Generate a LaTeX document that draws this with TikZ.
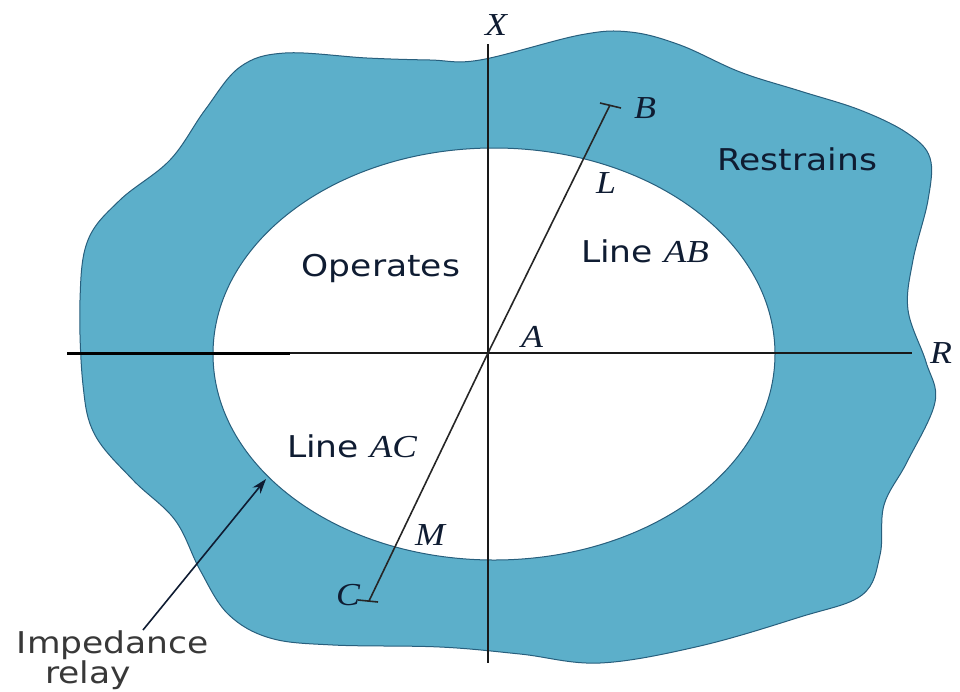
\documentclass[tikz,border=0pt]{standalone}
\usepackage{fontspec}
\newfontfamily\lab{DejaVu Sans}
\newfontfamily\ital{Liberation Serif}
\usetikzlibrary{arrows.meta}
\definecolor{ring}{RGB}{92,175,202}
\definecolor{ringedge}{RGB}{40,95,125}
\definecolor{ink}{RGB}{15,28,50}
\newcommand{\wsans}[1]{\scalebox{1.15}[1]{\lab\fontsize{30}{36}\selectfont #1}}
\newcommand{\witl}[1]{\scalebox{1.12}[1]{\ital\itshape\fontsize{32}{38}\selectfont #1}}
\newcommand{\myit}[1]{{\ital\itshape\fontsize{32}{38}\selectfont #1}}
\tikzset{
  lbl/.style={anchor=base, inner sep=0pt, text=ink},
  axis/.style={draw=black!90, line width=2pt},
  lineseg/.style={draw=black!85, line width=1.6pt},
  ringpath/.style={fill=ring, draw=ringedge, line width=1pt, even odd rule},
}
\begin{document}
\begin{tikzpicture}[x=1pt,y=-1pt]
\useasboundingbox (0,0) rectangle (960,691);
% ring
\path[ringpath] plot[smooth cycle, tension=0.6] coordinates {
 (480,60) (580,35) (630,32) (680,45) (740,72) (800,91) (860,110)
 (907,133) (930,158) (928,200) (913,260) (908,310) (926,362) (935,402)
 (907,462) (884,505) (880,555) (862,595) (800,617) (700,646) (600,663)
 (520,654) (440,647) (333,645) (270,638) (228,614) (200,570) (175,520)
 (133,480) (95,435) (83,385) (80,300) (88,240) (120,200) (170,160)
 (205,110) (240,67) (285,53) (367,58) (430,60)
} (494,354) ellipse [x radius=281, y radius=206];
% coordinates
\coordinate (hl) at (67,353);
\coordinate (hk) at (290,353);
\coordinate (hr) at (912,353);
\coordinate (vt) at (488,44);
\coordinate (vb) at (488,663);
\coordinate (O) at (488,353);
\coordinate (Bend) at (610,105);
\coordinate (Cend) at (369,601);
\coordinate (Bt1) at (600,103);
\coordinate (Bt2) at (621,108);
\coordinate (Ct1) at (358,600);
\coordinate (Ct2) at (378,602);
% axes
\draw[axis] (hl) -- (hr);
\draw[draw=black, line width=3pt] (hl) -- (hk);
\draw[axis] (vt) -- (vb);
% lines AB and AC
\draw[lineseg] (O) -- (Bend);
\draw[lineseg] (Bt1) -- (Bt2);
\draw[lineseg] (O) -- (Cend);
\draw[lineseg] (Ct1) -- (Ct2);
% labels
\node[lbl] (X) at (496,35) {\witl{X}};
\node[lbl] (R) at (941,363) {\witl{R}};
\node[lbl] (A) at (532,347) {\witl{A}};
\node[lbl] (B) at (645,118) {\witl{B}};
\node[lbl] (L) at (606,193) {\witl{L}};
\node[lbl] (M) at (430,545) {\witl{M}};
\node[lbl] (C) at (348,605) {\witl{C}};
\node[lbl] (rest) at (797,170) {\wsans{Restrains}};
\node[lbl] (oper) at (381,276) {\wsans{Operates}};
\node[lbl] (lab) at (645,262) {\wsans{Line \myit{AB}}};
\node[lbl] (lac) at (352,457) {\wsans{Line \myit{AC}}};
\node[lbl, text=black!78] (imp) at (113,653) {\wsans{Impedance}};
\node[lbl, text=black!78] (rel) at (88,683) {\wsans{relay}};
% arrow
\coordinate (arS) at (143,630);
\coordinate (arT) at (266,479);
\draw[draw=ink, line width=1.6pt, -{Stealth[length=15pt,width=10pt]}] (arS) -- (arT);
\end{tikzpicture}
\end{document}
